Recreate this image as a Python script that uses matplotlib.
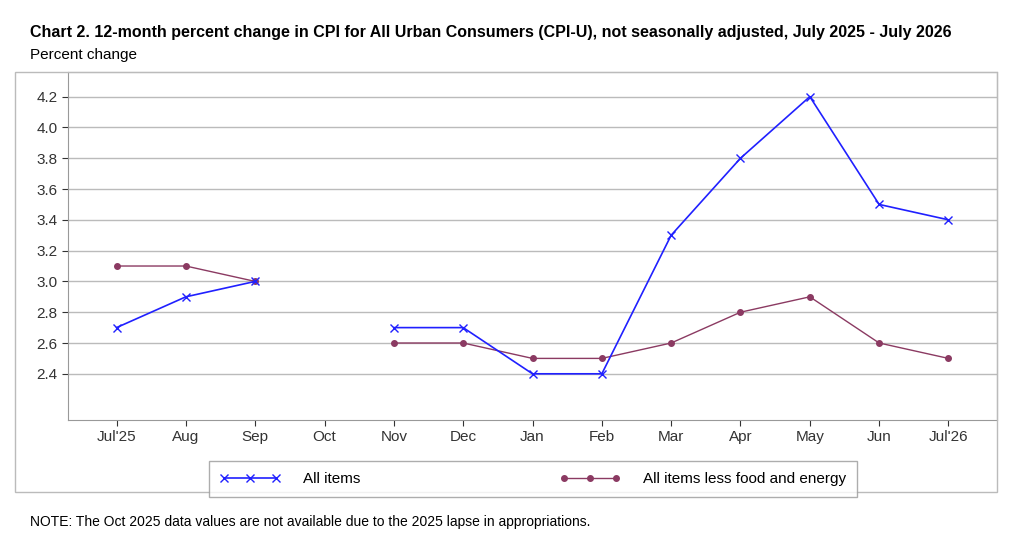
import numpy as np
import matplotlib
matplotlib.use("Agg")
import matplotlib.pyplot as plt
from matplotlib.patches import Rectangle

months = ["Jul'25", "Aug", "Sep", "Oct", "Nov", "Dec", "Jan", "Feb", "Mar", "Apr", "May", "Jun", "Jul'26"]
all_items = [2.7, 2.9, 3.0, np.nan, 2.7, 2.7, 2.4, 2.4, 3.3, 3.8, 4.2, 3.5, 3.4]
core = [3.1, 3.1, 3.0, np.nan, 2.6, 2.6, 2.5, 2.5, 2.6, 2.8, 2.9, 2.6, 2.5]
yticks = [2.4, 2.6, 2.8, 3.0, 3.2, 3.4, 3.6, 3.8, 4.0, 4.2]

plt.rcParams['font.family'] = ['Liberation Sans', 'DejaVu Sans']
fig = plt.figure(figsize=(10.24, 5.33), dpi=100)
ax = fig.add_axes([68/1024, 1-420/533, (997-68)/1024, (420-72)/533])

x = np.arange(len(months))
ax.plot(x, core, color='#8b3a62', lw=1, marker='o', ms=4, label='All items less food and energy')
ax.plot(x, all_items, color='#2020ff', lw=1.2, marker='x', ms=6, label='All items')

ax.set_xlim(-0.7, 12.7)
ax.set_ylim(2.1, 4.36)
ax.set_xticks(x)
ax.set_xticklabels(months, fontsize=11)
ax.set_yticks(yticks)
ax.set_yticklabels([f"{v:.1f}" for v in yticks], fontsize=11)
ax.yaxis.grid(True, color='#bbbbbb', lw=1)
ax.set_axisbelow(True)
for s in ax.spines.values():
    s.set_color('#999999')
ax.tick_params(colors='#333333', length=4)

# outer frame and legend
fig.patches.append(Rectangle((15/1024, 1-492/533), (997-15)/1024, (492-72)/533, transform=fig.transFigure,
                             fill=False, edgecolor='#bbbbbb', lw=1))
handles, labels = ax.get_legend_handles_labels()
leg = fig.legend([handles[1], handles[0]], [labels[1], labels[0]], loc='center', bbox_to_anchor=(533/1024, 1-479/533),
                 ncol=2, frameon=True, fontsize=11, handlelength=4, numpoints=3, columnspacing=13,
                 borderpad=0.4, handletextpad=1.5)
leg.get_frame().set_edgecolor('#999999')
leg.get_frame().set_boxstyle('square')

fig.text(30/1024, 1-33/533, "Chart 2. 12-month percent change in CPI for All Urban Consumers (CPI-U), not seasonally adjusted, July 2025 - July 2026",
         fontsize=11.5, fontweight='bold', va='center')
fig.text(30/1024, 1-55/533, "Percent change", fontsize=11, va='center')
fig.text(30/1024, 1-522/533, "NOTE: The Oct 2025 data values are not available due to the 2025 lapse in appropriations.",
         fontsize=10, va='center')

fig.savefig("out.png", dpi=100)
